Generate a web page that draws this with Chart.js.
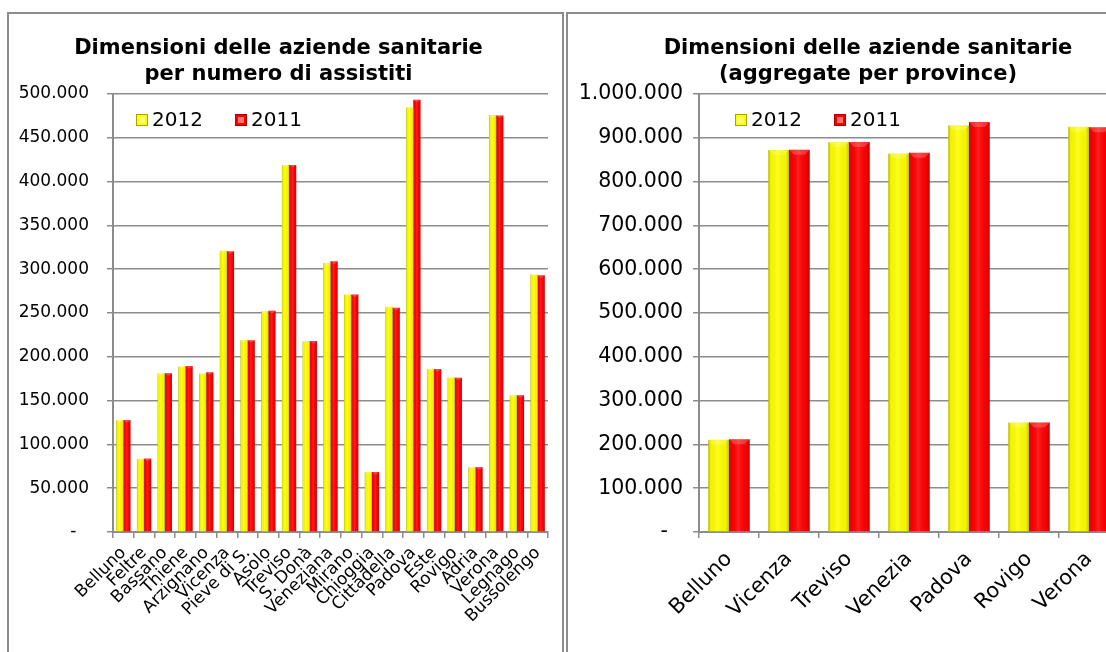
<!DOCTYPE html>
<html lang="it">
<head>
<meta charset="utf-8">
<title>Dimensioni delle aziende sanitarie</title>
<script src="https://cdn.jsdelivr.net/npm/chart.js@4/dist/chart.umd.min.js"></script>
<style>
  body { margin: 0; width: 1106px; height: 652px; overflow: hidden; background: #fff; position: relative; }
  .box { position: absolute; top: 12px; height: 700px; border: 2px solid #8c8c8c; }
  #boxLeft { left: 7px; width: 553px; }
  #boxRight { left: 566px; width: 700px; }
  canvas { position: absolute; top: 14px; }
  #chartUlss { left: 9px; }
  #chartProvince { left: 568px; }
  .titolo {
    position: absolute; top: 34px; text-align: center; white-space: nowrap;
    font: bold 21px/26px "DejaVu Sans", Verdana, sans-serif; color: #000;
  }
  #titoloUlss { left: 9px; width: 539px; }
  #titoloProvince { left: 618px; width: 500px; }
</style>
</head>
<body>
<div class="box" id="boxLeft"></div>
<div class="box" id="boxRight"></div>
<canvas id="chartUlss" width="552" height="638"></canvas>
<canvas id="chartProvince" width="601" height="638"></canvas>
<div class="titolo" id="titoloUlss">Dimensioni delle aziende sanitarie<br>per numero di assistiti</div>
<div class="titolo" id="titoloProvince">Dimensioni delle aziende sanitarie<br>(aggregate per province)</div>

<script>
// Assistiti per azienda sanitaria (ULSS)
const aziende = ["Belluno", "Feltre", "Bassano", "Thiene", "Arzignano", "Vicenza", "Pieve di S.", "Asolo", "Treviso", "S. Donà", "Veneziana", "Mirano", "Chioggia", "Cittadella", "Padova", "Este", "Rovigo", "Adria", "Verona", "Legnago", "Bussolengo"];
const assistiti2012 = [127500, 83500, 181000, 189000, 181000, 321000, 219000, 252000, 419000, 218000, 307000, 271000, 68500, 257000, 485000, 186000, 176500, 74000, 476000, 156000, 294000];
const assistiti2011 = [127800, 83800, 181200, 189500, 182500, 320500, 219000, 252500, 419000, 218000, 309000, 271000, 68500, 256000, 493500, 186000, 176000, 74000, 475500, 156000, 293000];

// Assistiti aggregati per provincia
const province = ["Belluno", "Vicenza", "Treviso", "Venezia", "Padova", "Rovigo", "Verona"];
const province2012 = [210500, 872000, 890000, 864000, 928500, 250000, 925000];
const province2011 = [211500, 872500, 890500, 866000, 936000, 250000, 924000];

const anni = ["2012", "2011"];
const colori = ["#ffff00", "#ff0000"];

Chart.defaults.font.family = '"DejaVu Sans", Verdana, sans-serif';
Chart.defaults.color = "#000";

// 500000 -> "500.000", zero shown as a dash like the spreadsheet format
function formatNumero(v) {
  if (v === 0) return "-\u2007\u200A";
  return String(v).replace(/\B(?=(\d{3})+(?!\d))/g, ".");
}

// light bevel on every bar, drawn over the flat fill
const barShade = {
  id: "barShade",
  afterDatasetsDraw(chart) {
    const ctx = chart.ctx;
    chart.data.datasets.forEach((ds, i) => {
      chart.getDatasetMeta(i).data.forEach(bar => {
        const p = bar.getProps(["x", "y", "base", "width"], true);
        const l = p.x - p.width / 2, r = p.x + p.width / 2;
        const g = ctx.createLinearGradient(l, 0, r, 0);
        g.addColorStop(0, "rgba(0,0,0,0.30)");
        g.addColorStop(0.12, "rgba(0,0,0,0.04)");
        g.addColorStop(0.45, "rgba(255,255,255,0.12)");
        g.addColorStop(0.85, "rgba(0,0,0,0.04)");
        g.addColorStop(1, "rgba(0,0,0,0.25)");
        ctx.save();
        ctx.fillStyle = g;
        ctx.fillRect(l, p.y, p.width, p.base - p.y);
        const h = Math.min(p.width * 0.3, 5);
        ctx.fillStyle = "rgba(255,255,255,0.2)";
        ctx.beginPath();
        ctx.moveTo(l, p.y);
        ctx.lineTo(r, p.y);
        ctx.lineTo(r - h, p.y + h);
        ctx.lineTo(l + h, p.y + h);
        ctx.closePath();
        ctx.fill();
        ctx.restore();
      });
    });
  }
};

// legend sitting inside the plot, top left
const legendInside = {
  id: "legendInside",
  afterDraw(chart, args, opts) {
    const ctx = chart.ctx;
    const area = chart.chartArea;
    let x = area.left + opts.offsetX;
    const y = area.top + opts.offsetY;
    ctx.save();
    ctx.font = '20px "DejaVu Sans", Verdana, sans-serif';
    ctx.textBaseline = "middle";
    chart.data.datasets.forEach(ds => {
      ctx.fillStyle = ds.backgroundColor;
      ctx.fillRect(x, y - 6, 12, 12);
      ctx.fillStyle = "rgba(255,255,255,0.45)";
      ctx.fillRect(x + 3, y - 3, 6, 6);
      ctx.strokeStyle = "rgba(0,0,0,0.35)";
      ctx.lineWidth = 1;
      ctx.strokeRect(x + 0.5, y - 5.5, 11, 11);
      ctx.fillStyle = "#000";
      ctx.fillText(ds.label, x + 16, y + 1);
      x += opts.gap;
    });
    ctx.restore();
  }
};

function makeChart(id, labels, serie, cfg) {
  const ctx = document.getElementById(id).getContext("2d");
  return new Chart(ctx, {
    type: "bar",
    data: {
      labels: labels,
      datasets: serie.map((values, i) => ({
        label: anni[i],
        data: values,
        backgroundColor: colori[i],
        borderWidth: 0,
        categoryPercentage: 0.69,
        barPercentage: 1.0
      }))
    },
    options: {
      responsive: false,
      animation: false,
      layout: { padding: { top: 80, left: 0, right: cfg.padRight } },
      plugins: {
        legend: { display: false },
        tooltip: { enabled: false },
        legendInside: { offsetX: cfg.legendX, offsetY: 26, gap: 99 }
      },
      scales: {
        x: {
          grid: { drawOnChartArea: false, offset: true, tickLength: 6, color: "#8c8c8c", lineWidth: 1.5 },
          border: { color: "#8c8c8c", width: 2 },
          ticks: { autoSkip: false, minRotation: 45, maxRotation: 45, padding: cfg.xPad, font: { size: cfg.xFont } },
          afterFit: scale => { scale.height = 120; }
        },
        y: {
          min: 0,
          max: cfg.max,
          grid: { color: "#8c8c8c", lineWidth: 1.5, tickLength: 6 },
          border: { color: "#8c8c8c", width: 2 },
          ticks: { stepSize: cfg.step, padding: cfg.yPad, font: { size: cfg.yFont }, callback: v => formatNumero(v) },
          afterFit: scale => { scale.width = cfg.yWidth; }
        }
      }
    },
    plugins: [barShade, legendInside]
  });
}

makeChart("chartUlss", aziende, [assistiti2012, assistiti2011],
  { padRight: 13, yWidth: 104, max: 500000, step: 50000, yFont: 17, yPad: 18, xFont: 17, xPad: 5, legendX: 23 });

makeChart("chartProvince", province, [province2012, province2011],
  { padRight: 50, yWidth: 131, max: 1000000, step: 100000, yFont: 20.5, yPad: 10, xFont: 21, xPad: 9, legendX: 36 });
</script>
</body>
</html>
